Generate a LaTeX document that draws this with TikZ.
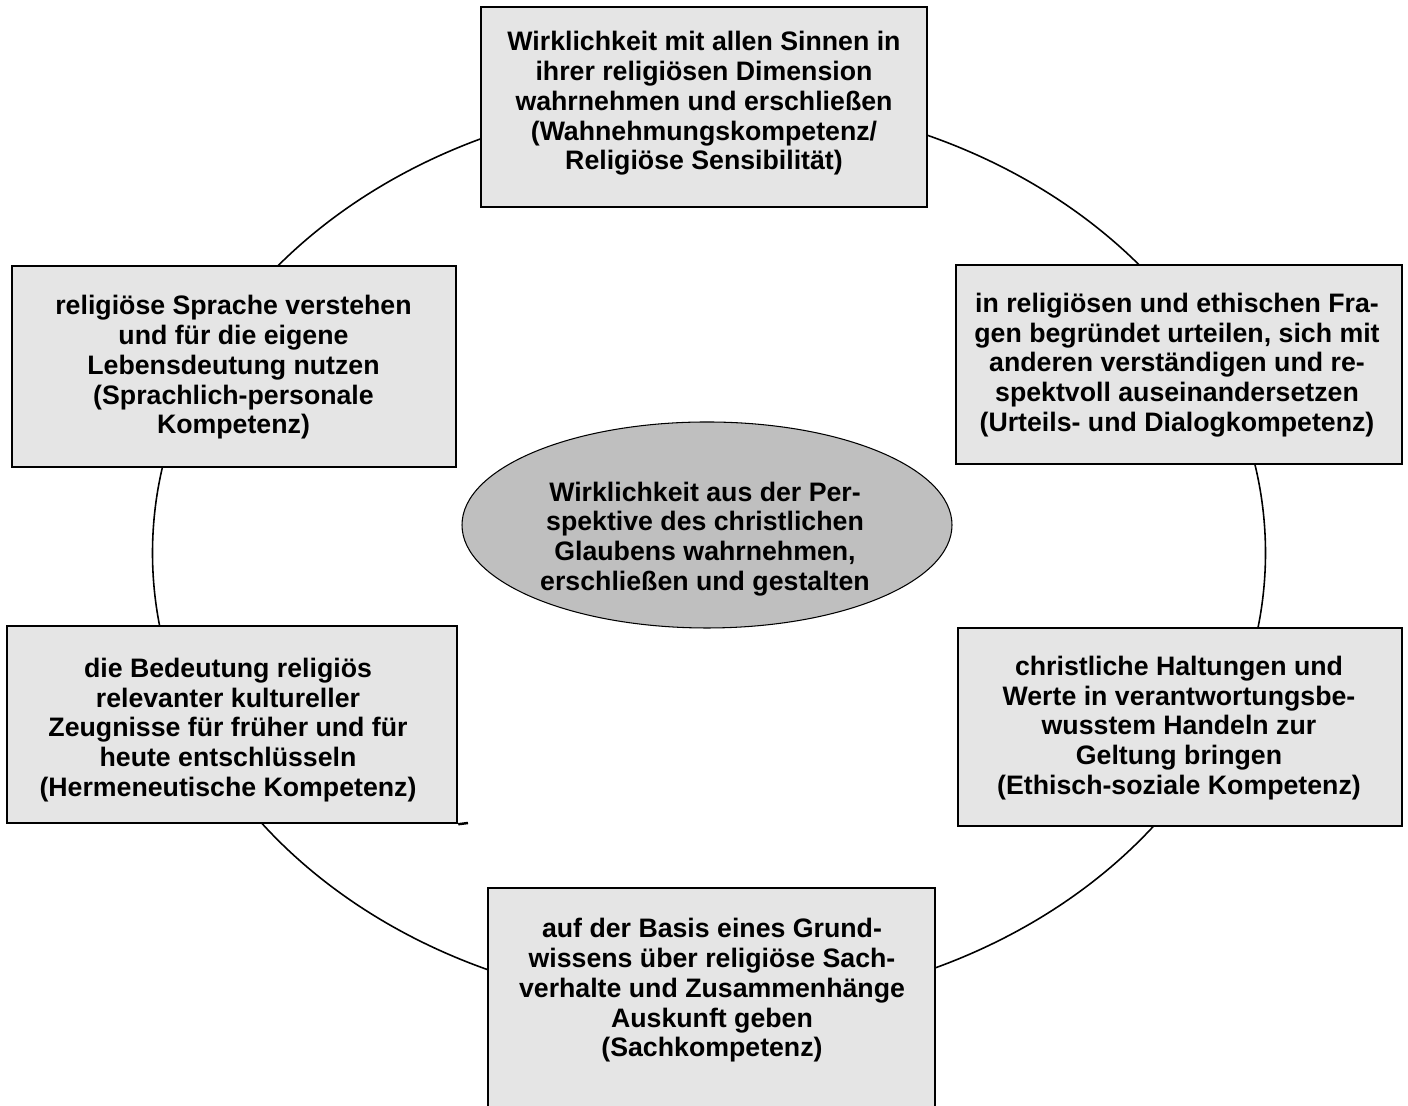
\documentclass[tikz,border=0pt]{standalone}
\usepackage{fontspec}
\setmainfont{Liberation Sans}
\usetikzlibrary{shapes.geometric}
\begin{document}
\begin{tikzpicture}[
  kbox/.style={draw, line width=1.4pt, fill=black!10, inner sep=0pt},
  ktext/.style={align=center, inner sep=0pt, font=\fontsize{15.2}{16.9}\selectfont\bfseries}
]
\useasboundingbox (0, 0) rectangle (28.16, 22.12);
% ring behind the boxes
\node [draw, ellipse, line width=0.9pt, inner sep=0pt, minimum width=22.26cm, minimum height=18.16cm] (ring) at (14.18, 11.06) {};
% centre
\node [draw, ellipse, line width=0.6pt, fill=black!25, inner sep=0pt, minimum width=9.80cm, minimum height=4.12cm] (mitte) at (14.14, 11.62) {};
\node [ktext] (mittetext) at (14.10, 11.34) {Wirklichkeit aus der Per-\\spektive des christlichen\\Glaubens wahrnehmen,\\erschließen und gestalten};
% boxes
\node [kbox, minimum width=8.92cm, minimum height=4.00cm] (wahr) at (14.08, 19.98) {};
\node [kbox, minimum width=8.88cm, minimum height=4.02cm] (sprache) at (4.68, 14.79) {};
\node [kbox, minimum width=8.92cm, minimum height=3.98cm] (urteil) at (23.58, 14.83) {};
\node [kbox, minimum width=9.00cm, minimum height=3.94cm] (herm) at (4.64, 7.63) {};
\node [kbox, minimum width=8.88cm, minimum height=3.96cm] (ethik) at (23.60, 7.58) {};
\node [kbox, minimum width=8.94cm, minimum height=4.64cm] (sach) at (14.23, 2.04) {};
\coordinate (hermend) at (9.36, 5.66);
\draw [line width=1.4pt] (herm.south east) -- (hermend);
% texts
\node [ktext] (wahrtext) at (14.08, 20.05) {Wirklichkeit mit allen Sinnen in\\ihrer religiösen Dimension\\wahrnehmen und erschließen\\(Wahnehmungskompetenz/\\Religiöse Sensibilität)};
\node [ktext] (sprachetext) at (4.67, 14.77) {religiöse Sprache verstehen\\und für die eigene\\Lebensdeutung nutzen\\(Sprachlich-personale\\Kompetenz)};
\node [ktext] (urteiltext) at (23.54, 14.82) {in religiösen und ethischen Fra-\\gen begründet urteilen, sich mit\\anderen verständigen und re-\\spektvoll auseinandersetzen\\(Urteils- und Dialogkompetenz)};
\node [ktext] (hermtext) at (4.56, 7.52) {die Bedeutung religiös\\relevanter kultureller\\Zeugnisse für früher und für\\heute entschlüsseln\\(Hermeneutische Kompetenz)};
\node [ktext] (ethiktext) at (23.58, 7.56) {christliche Haltungen und\\Werte in verantwortungsbe-\\wusstem Handeln zur\\Geltung bringen\\(Ethisch-soziale Kompetenz)};
\node [ktext] (sachtext) at (14.24, 2.31) {auf der Basis eines Grund-\\wissens über religiöse Sach-\\verhalte und Zusammenhänge\\Auskunft geben\\(Sachkompetenz)};
\end{tikzpicture}
\end{document}
